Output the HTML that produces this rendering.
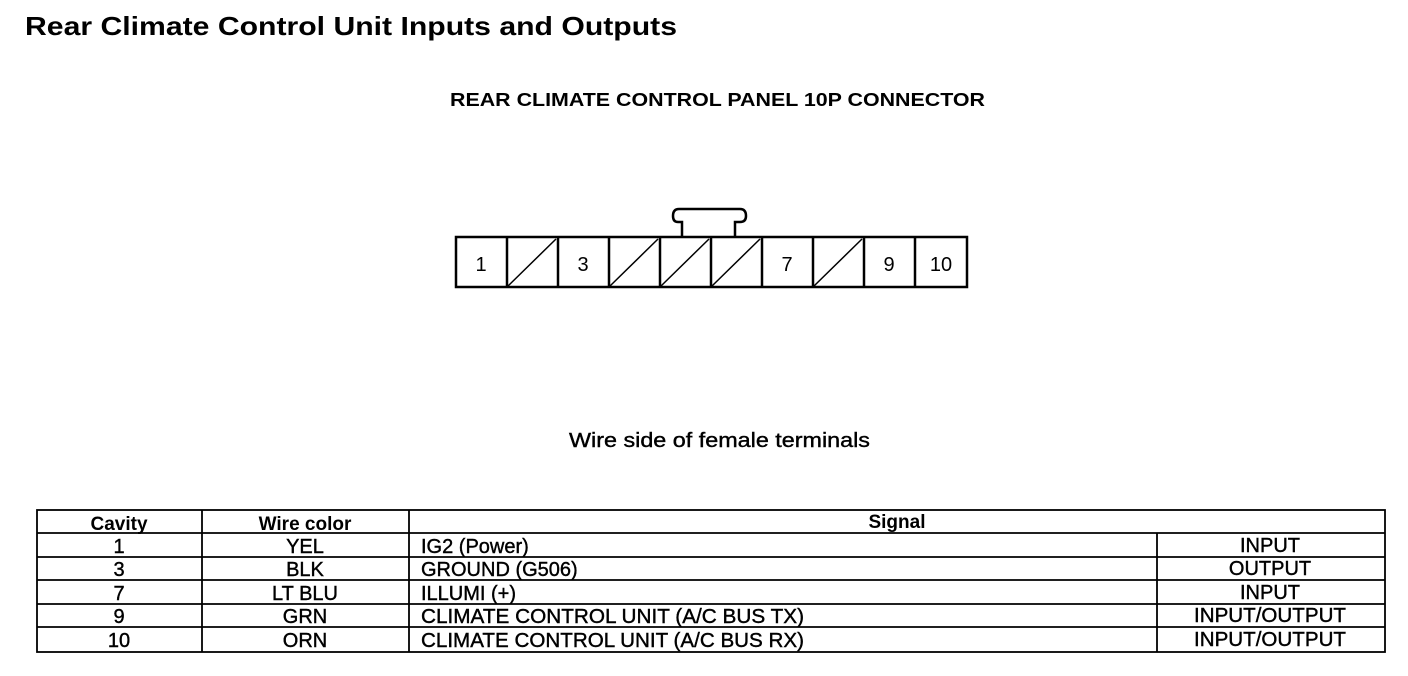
<!DOCTYPE html>
<html><head><meta charset="utf-8"><style>
html,body{margin:0;padding:0;background:#fff;}
svg{display:block;}
text{font-family:"Liberation Sans",Arial,sans-serif;fill:#000;}
.t{stroke:#000;stroke-width:0.4;}
</style></head><body>
<svg width="1408" height="676" viewBox="0 0 1408 676" xmlns="http://www.w3.org/2000/svg">
<text x="25" y="35" font-size="26" font-weight="bold" textLength="652" lengthAdjust="spacingAndGlyphs">Rear Climate Control Unit Inputs and Outputs</text>
<text x="450" y="106" font-size="18" font-weight="bold" textLength="535" lengthAdjust="spacingAndGlyphs">REAR CLIMATE CONTROL PANEL 10P CONNECTOR</text>
<g fill="none" stroke="#000" stroke-width="2.5">
<path d="M682,237 L682,222 L678,222 Q673,222 673,216 Q673,209 679,209 L740,209 Q746,209 746,216 Q746,222 740,222 L735,222 L735,237"/>
<rect x="456" y="237" width="511" height="50"/>
<line x1="507" y1="237" x2="507" y2="287"/>
<line x1="558" y1="237" x2="558" y2="287"/>
<line x1="609" y1="237" x2="609" y2="287"/>
<line x1="660" y1="237" x2="660" y2="287"/>
<line x1="711" y1="237" x2="711" y2="287"/>
<line x1="762" y1="237" x2="762" y2="287"/>
<line x1="813" y1="237" x2="813" y2="287"/>
<line x1="864" y1="237" x2="864" y2="287"/>
<line x1="915" y1="237" x2="915" y2="287"/>
</g>
<g stroke="#000" stroke-width="1.5">
<line x1="508" y1="286" x2="556" y2="239"/>
<line x1="610" y1="286" x2="658" y2="239"/>
<line x1="661" y1="286" x2="709" y2="239"/>
<line x1="712" y1="286" x2="760" y2="239"/>
<line x1="814" y1="286" x2="862" y2="239"/>
</g>
<g font-size="20" text-anchor="middle">
<text x="481" y="271">1</text>
<text x="583" y="271">3</text>
<text x="787" y="271">7</text>
<text x="889" y="271">9</text>
<text x="941" y="271">10</text>
</g>
<text x="569" y="447" font-size="20" class="t" textLength="301" lengthAdjust="spacingAndGlyphs">Wire side of female terminals</text>
<g fill="none" stroke="#000" stroke-width="1.8">
<rect x="37" y="510" width="1348" height="142"/>
<line x1="37" y1="533" x2="1385" y2="533"/>
<line x1="37" y1="557" x2="1385" y2="557"/>
<line x1="37" y1="580" x2="1385" y2="580"/>
<line x1="37" y1="604" x2="1385" y2="604"/>
<line x1="37" y1="627" x2="1385" y2="627"/>
<line x1="202" y1="510" x2="202" y2="652"/>
<line x1="409" y1="510" x2="409" y2="652"/>
<line x1="1157" y1="533" x2="1157" y2="652"/>
</g>
<g font-size="19" font-weight="bold" text-anchor="middle">
<text x="119" y="530">Cavity</text>
<text x="305" y="530">Wire color</text>
<text x="897" y="528">Signal</text>
</g>
<g font-size="20" text-anchor="middle" class="t">
<text x="119" y="553">1</text><text x="305" y="553">YEL</text><text x="1270" y="552">INPUT</text>
<text x="119" y="576">3</text><text x="305" y="576">BLK</text><text x="1270" y="575">OUTPUT</text>
<text x="119" y="600">7</text><text x="305" y="600">LT BLU</text><text x="1270" y="599">INPUT</text>
<text x="119" y="623">9</text><text x="305" y="623">GRN</text><text x="1270" y="622" textLength="152" lengthAdjust="spacingAndGlyphs">INPUT/OUTPUT</text>
<text x="119" y="647">10</text><text x="305" y="647">ORN</text><text x="1270" y="646" textLength="152" lengthAdjust="spacingAndGlyphs">INPUT/OUTPUT</text>
</g>
<g font-size="20" class="t">
<text x="421" y="553">IG2 (Power)</text>
<text x="421" y="576">GROUND (G506)</text>
<text x="421" y="600">ILLUMI (+)</text>
<text x="421" y="623" textLength="383" lengthAdjust="spacingAndGlyphs">CLIMATE CONTROL UNIT (A/C BUS TX)</text>
<text x="421" y="647" textLength="383" lengthAdjust="spacingAndGlyphs">CLIMATE CONTROL UNIT (A/C BUS RX)</text>
</g>
</svg>
</body></html>
